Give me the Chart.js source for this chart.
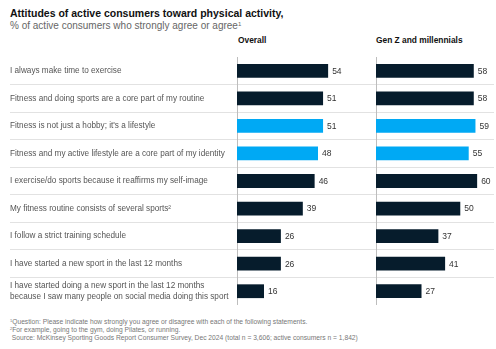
<!DOCTYPE html>
<html>
<head>
<meta charset="utf-8">
<script src="https://cdn.jsdelivr.net/npm/chart.js@4.4.1/dist/chart.umd.min.js"></script>
<style>
  body { margin: 0; width: 496px; height: 349px; background: #fff; position: relative; overflow: hidden;
         font-family: "Liberation Sans", Arial, sans-serif; }
  .txt { position: absolute; white-space: nowrap; }
  #title { left: 10px; top: 7px; font-size: 10.5px; font-weight: bold; color: #111; }
  #subtitle { left: 10px; top: 20px; font-size: 10px; color: #666; }
  .head { top: 35px; font-size: 8.4px; font-weight: bold; color: #111; }
  #notes { left: 10px; top: 318px; font-size: 6.7px; line-height: 8px; color: #777; }
  sup { font-size: 0.6em; line-height: 0; vertical-align: 0.55em; }
  canvas { position: absolute; top: 57px; }
  #overall { left: 0; }
  #genz { left: 372px; }
</style>
</head>
<body>
<div class="txt" id="title">Attitudes of active consumers toward physical activity,</div>
<div class="txt" id="subtitle">% of active consumers who strongly agree or agree<sup>1</sup></div>
<div class="txt head" style="left:238px">Overall</div>
<div class="txt head" style="left:376px">Gen Z and millennials</div>
<canvas id="overall" width="372" height="248"></canvas>
<canvas id="genz" width="124" height="248"></canvas>
<div class="txt" id="notes"><sup>1</sup>Question: Please indicate how strongly you agree or disagree with each of the following statements.<br><sup>2</sup>For example, going to the gym, doing Pilates, or running.<br>&nbsp;Source: McKinsey Sporting Goods Report Consumer Survey, Dec 2024 (total n = 3,606; active consumers n = 1,842)</div>
<script>
const statements = [
  'I always make time to exercise',
  'Fitness and doing sports are a core part of my routine',
  "Fitness is not just a hobby; it's a lifestyle",
  'Fitness and my active lifestyle are a core part of my identity',
  'I exercise/do sports because it reaffirms my self-image',
  'My fitness routine consists of several sports²',
  'I follow a strict training schedule',
  'I have started a new sport in the last 12 months',
  ['I have started doing a new sport in the last 12 months', 'because I saw many people on social media doing this sport']
];
const overallValues = [54, 51, 51, 48, 46, 39, 26, 26, 16];
const genZValues = [58, 58, 59, 55, 60, 50, 37, 41, 27];
const highlightRows = [2, 3];

const NAVY = '#061c2c';
const CYAN = '#00a9f4';
const FONT = '"Liberation Sans", Arial, sans-serif';
const barColors = statements.map((s, i) => highlightRows.includes(i) ? CYAN : NAVY);

// number printed just past the end of each bar
const valueLabels = {
  id: 'valueLabels',
  afterDatasetsDraw(chart) {
    const ctx = chart.ctx;
    const ds = chart.data.datasets[0];
    ctx.save();
    ctx.font = '8.5px ' + FONT;
    ctx.fillStyle = '#333';
    ctx.textBaseline = 'middle';
    chart.getDatasetMeta(0).data.forEach((bar, i) => {
      ctx.fillText(ds.data[i], bar.x + 4, bar.y + 0.5);
    });
    ctx.restore();
  }
};

function rowLine(c) {
  return c.index > 0 ? '#e2e2e2' : 'rgba(0,0,0,0)';
}

function makeChart(id, values, withLabels, axisWidth, max, pad) {
  return new Chart(document.getElementById(id), {
    type: 'bar',
    data: {
      labels: statements,
      datasets: [{
        data: values,
        backgroundColor: barColors,
        barPercentage: 0.5,
        categoryPercentage: 1
      }]
    },
    options: {
      indexAxis: 'y',
      responsive: false,
      animation: false,
      layout: { padding: pad },
      plugins: { legend: { display: false }, tooltip: { enabled: false } },
      scales: {
        x: { display: false, min: 0, max: max },
        y: {
          border: { display: true, color: '#bdbdbd' },
          grid: { offset: true, tickLength: axisWidth, color: rowLine },
          ticks: {
            display: withLabels,
            crossAlign: 'far',
            padding: 0,
            color: '#555',
            font: { family: FONT, size: 8.2, lineHeight: 1.25 }
          },
          afterFit(s) {
            s.width = axisWidth;
            s.paddingTop = 0;
            s.paddingBottom = 0;
          }
        }
      }
    },
    plugins: [valueLabels]
  });
}

makeChart('overall', overallValues, true, 227, 80, { left: 10, right: 0, top: 0, bottom: 0 });
makeChart('genz', genZValues, false, 4, 70, { left: 0, right: 2, top: 0, bottom: 0 });
</script>
</body>
</html>
